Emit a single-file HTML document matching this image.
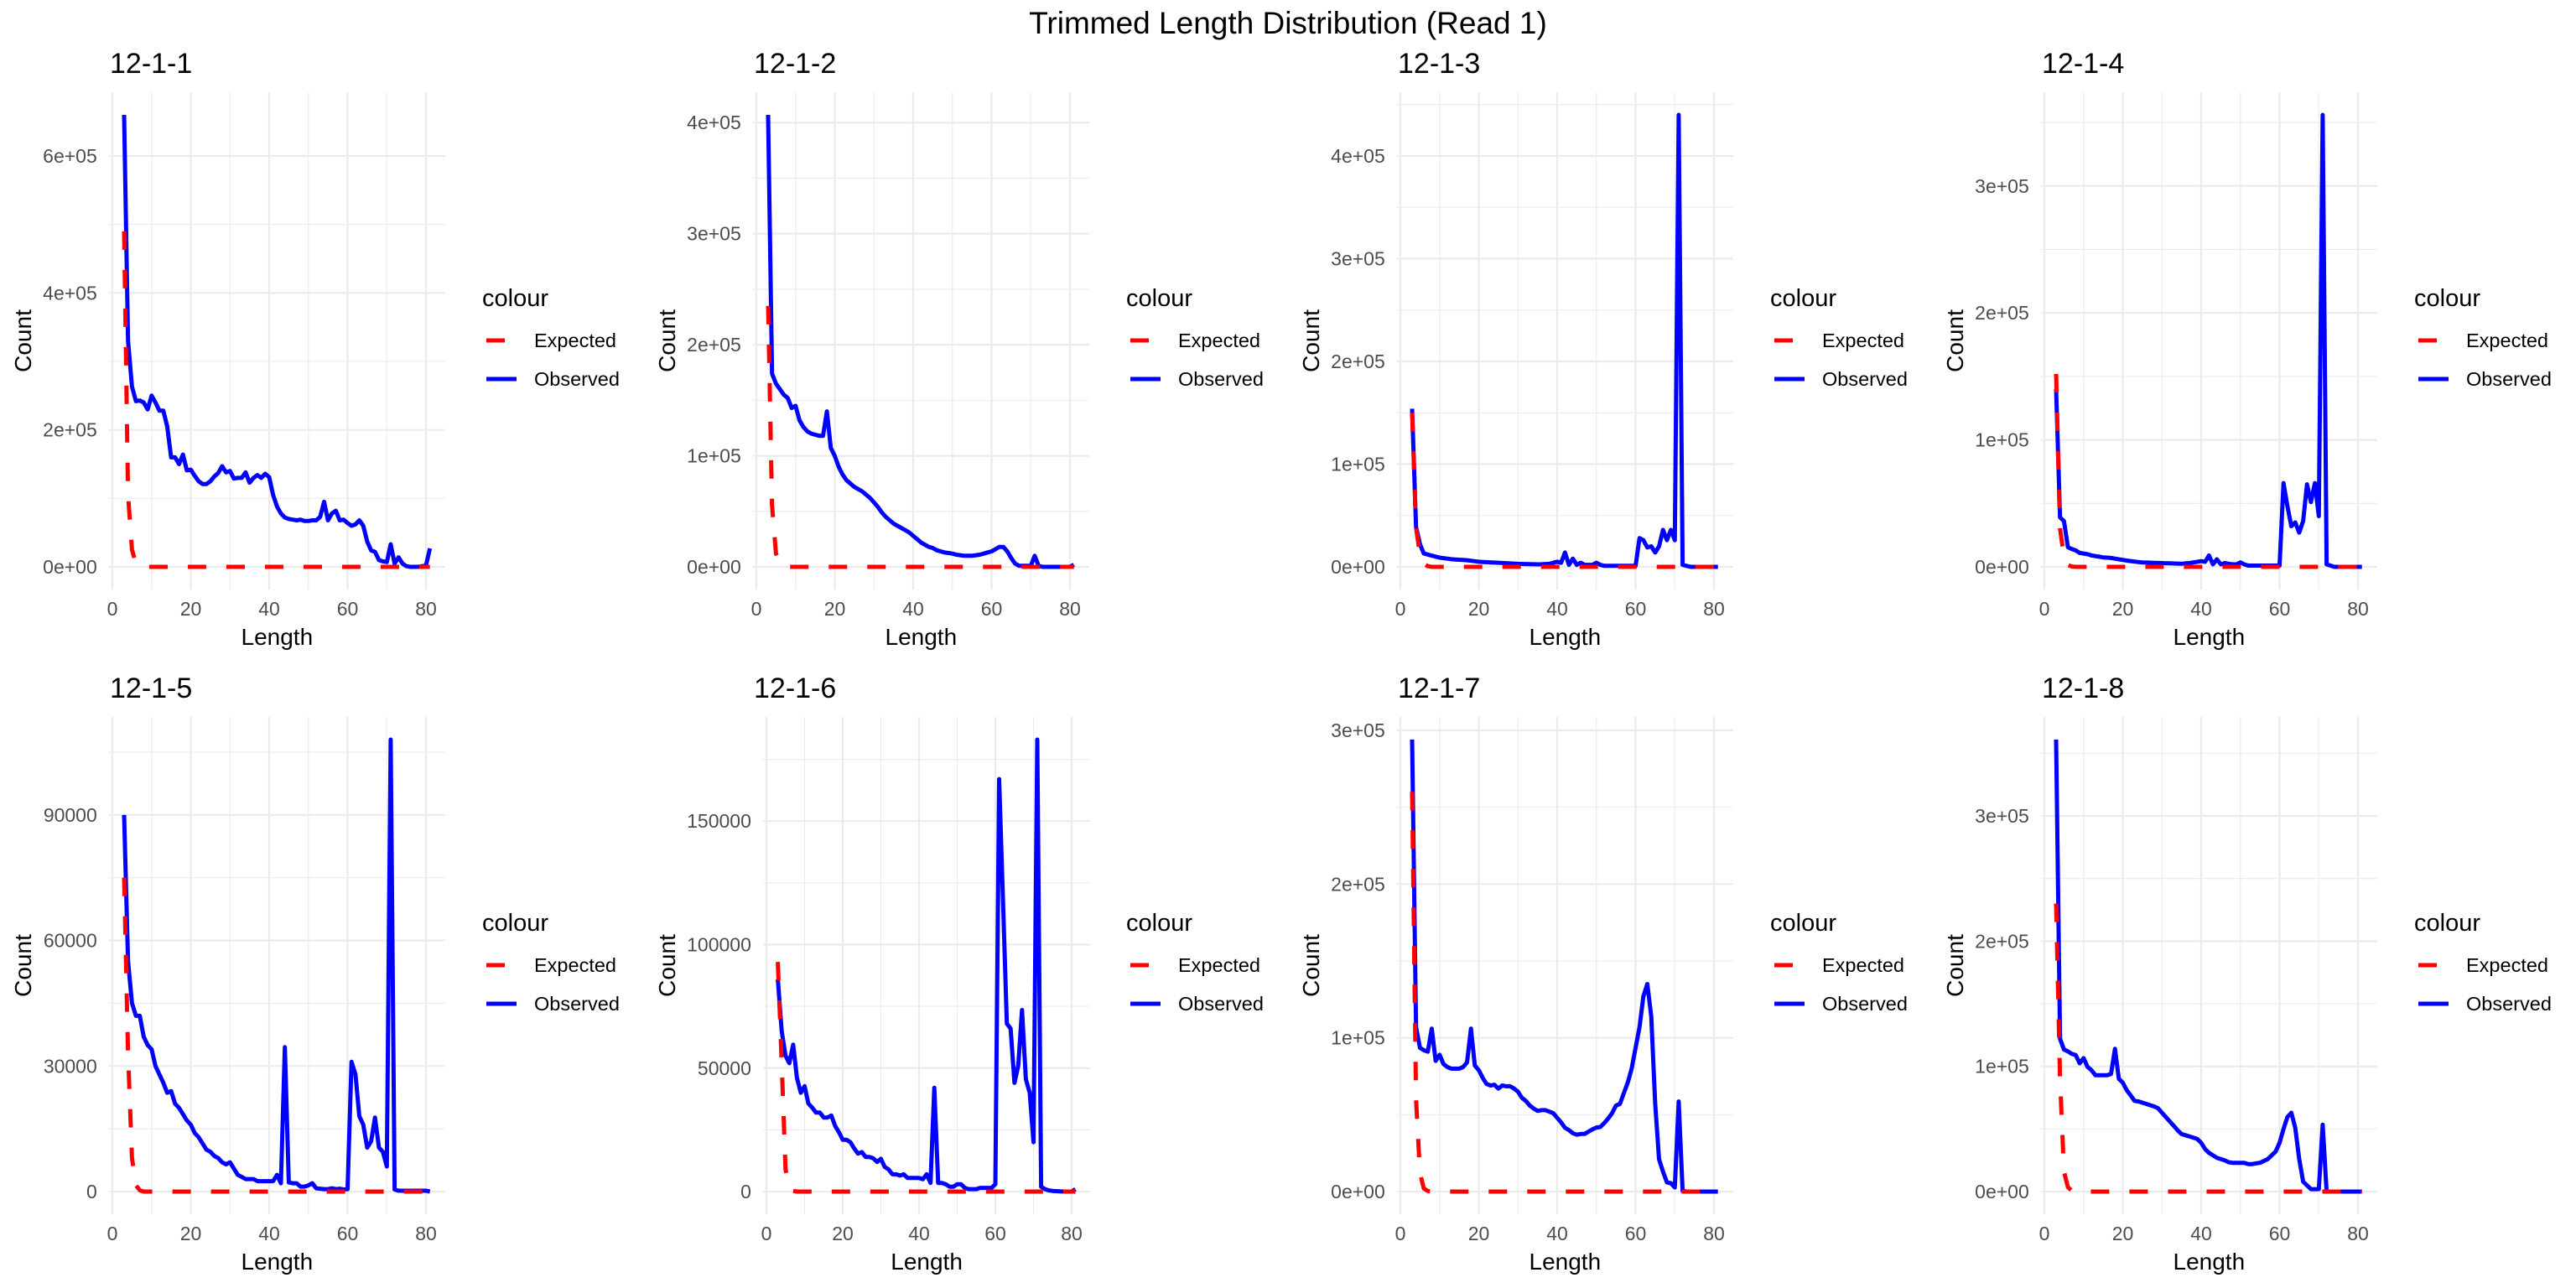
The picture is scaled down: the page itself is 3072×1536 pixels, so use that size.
<!DOCTYPE html>
<html>
<head>
<meta charset="utf-8">
<style>
  html, body { margin: 0; padding: 0; background: #ffffff; }
  svg { display: block; font-family: "Liberation Sans", Arial, sans-serif; }
</style>
</head>
<body>
<svg id="chart" width="3072" height="1536" viewBox="0 0 3072 1536" xmlns="http://www.w3.org/2000/svg">
  <rect x="0" y="0" width="3072" height="1536" fill="#ffffff"/>
  <text x="1536" y="40" text-anchor="middle" font-size="37" fill="#000">Trimmed Length Distribution (Read 1)</text>
</svg>
<script>
// ---- data ----
const panelTitles = ["12-1-1","12-1-2","12-1-3","12-1-4","12-1-5","12-1-6","12-1-7","12-1-8"];
const lengthStart = 3;
const lengthEnd = 81;

const obs1 = [660000,330000,263000,242000,243000,240000,230000,250000,240000,228000,
228000,205000,160000,160000,150000,164000,141000,142000,133000,125000,
121000,121000,125000,132000,137000,147000,138000,140000,129000,130000,
130000,138000,123000,130000,134000,130000,136000,131000,105000,88000,
78000,72000,70000,69000,68000,69000,67000,67000,68000,68000,
73000,95000,68000,78000,82000,68000,69000,64000,60000,62000,
68000,60000,37000,24000,22000,10000,8000,7000,33000,5000,
14000,5000,1000,0,0,0,1000,2000,27000];
const obs2 = [407000,174000,165000,160000,155000,152000,143000,145000,132000,126000,
122000,120000,119000,118000,118000,140000,107000,100000,90000,83000,
78000,75000,72000,70000,68000,65000,62000,58000,54000,49000,
45000,42000,39000,37000,35000,33000,31000,28000,25000,22000,
20000,18000,17000,15000,14000,13000,12500,12000,11000,10500,
10000,10000,10000,10500,11000,12000,13000,14000,16000,18000,
18000,14000,8000,3000,1000,1000,1000,1000,10000,1000,
0,0,0,0,0,0,0,0,2000];
const obs3 = [154000,39000,22000,13000,12000,11000,10000,9000,8500,8000,
7500,7200,7000,6800,6500,6000,5500,5000,4800,4600,
4400,4200,4000,3800,3600,3400,3200,3000,2900,2800,
2700,2600,2500,2600,2800,3000,4000,5000,4000,14000,
2000,8000,2000,4000,2000,2000,2000,4000,2000,1000,
1000,1000,1000,1000,1000,1000,1000,1000,28000,26000,
19000,20000,14000,20000,36000,26000,36000,26000,440000,2000,
1000,0,0,0,0,0,0,0,0];
const obs4 = [140000,39000,36000,15500,14000,13000,11000,10500,10000,9000,
8500,8000,7500,7300,7000,6500,6000,5500,5000,4600,
4200,3800,3500,3400,3300,3200,3100,3000,2900,2800,
2700,2600,2500,2800,3000,3500,4000,4500,4000,9000,
2000,6000,2000,3000,2500,2000,2000,3500,2000,1000,
1000,1000,1000,1000,1000,1000,1000,1000,66000,48000,
32000,35000,27000,36000,65000,51000,66000,40000,356000,2000,
1000,0,0,0,0,0,0,0,0];
const obs5 = [90000,55000,45000,42000,42000,37000,35000,34000,30000,28000,
26000,23600,24000,21000,20000,18500,17000,16000,14000,13000,
11500,10000,9500,8500,8000,7000,6500,7000,5500,4000,
3500,3000,3000,3000,2500,2500,2500,2500,2500,4000,
2000,34500,2200,2000,2000,1200,1200,1500,2000,800,
700,600,600,800,600,700,500,600,31000,28000,
18000,16000,10500,12000,17700,10500,9500,6000,108000,500,
200,200,200,200,200,200,200,200,0];
const obs6 = [86000,65000,55000,52000,59500,46000,40000,42700,35700,34000,
32000,32000,30000,30000,30800,26600,24000,21000,21000,20000,
17500,15400,16000,14000,14000,13500,12000,13300,10000,9000,
7000,7000,6500,7000,5500,5500,5500,5500,5000,7000,
3500,42000,3500,3500,3000,2000,2000,3000,3000,1500,
1000,1000,1000,1500,1500,1500,1500,3000,167000,118000,
68000,66000,44000,51000,73500,45500,40000,20000,183000,2000,
1000,500,300,200,100,0,0,0,1000];
const obs7 = [294000,107000,93500,92000,91000,106000,85000,89000,83000,81000,
80000,80000,80000,81000,84000,106000,82000,79000,74000,70000,
69000,69500,67000,69000,68500,68500,67000,65000,61000,59000,
56000,54000,52500,53000,53000,52000,51000,48000,45000,41500,
40000,38000,37000,37500,37500,39000,40500,41700,42000,44500,
47500,51000,56000,57000,64000,71000,80000,93500,107000,127000,
135000,114000,57000,21000,13000,6000,5500,2700,58600,500,
0,0,0,0,0,0,0,0,0];
const obs8 = [361000,122000,113500,112000,110000,109000,102500,106600,99700,97000,
93000,93000,93000,93000,94000,114000,90000,87000,81000,77000,
72500,72000,71000,70000,69000,68000,66500,63000,59500,56000,
52500,49000,46000,45000,44000,43000,42000,39000,34000,31000,
29000,27000,26000,25000,23500,23000,23000,23000,23000,22000,
22000,22500,23000,24500,26000,29000,32000,39000,50000,59500,
63000,51000,26000,8000,5000,2000,2000,2000,53500,0,
0,0,0,0,0,0,0,0,0];

const exp1 = [490000,105000,25000,5000,1000,0,0,0,0,0,
0,0,0,0,0,0,0,0,0,0, 0,0,0,0,0,0,0,0,0,0, 0,0,0,0,0,0,0,0,0,0,
0,0,0,0,0,0,0,0,0,0, 0,0,0,0,0,0,0,0,0,0, 0,0,0,0,0,0,0,0,0,0, 0,0,0,0,0,0,0,0,0];
const exp2 = [235000,55000,12000,2500,500,0,0,0,0,0,
0,0,0,0,0,0,0,0,0,0, 0,0,0,0,0,0,0,0,0,0, 0,0,0,0,0,0,0,0,0,0,
0,0,0,0,0,0,0,0,0,0, 0,0,0,0,0,0,0,0,0,0, 0,0,0,0,0,0,0,0,0,0, 0,0,0,0,0,0,0,0,0];
const exp3 = [150000,38000,12000,3000,700,0,0,0,0,0,
0,0,0,0,0,0,0,0,0,0, 0,0,0,0,0,0,0,0,0,0, 0,0,0,0,0,0,0,0,0,0,
0,0,0,0,0,0,0,0,0,0, 0,0,0,0,0,0,0,0,0,0, 0,0,0,0,0,0,0,0,0,0, 0,0,0,0,0,0,0,0,0];
const exp4 = [152000,30000,8000,1500,300,0,0,0,0,0,
0,0,0,0,0,0,0,0,0,0, 0,0,0,0,0,0,0,0,0,0, 0,0,0,0,0,0,0,0,0,0,
0,0,0,0,0,0,0,0,0,0, 0,0,0,0,0,0,0,0,0,0, 0,0,0,0,0,0,0,0,0,0, 0,0,0,0,0,0,0,0,0];
const exp5 = [75000,33000,8000,1500,300,0,0,0,0,0,
0,0,0,0,0,0,0,0,0,0, 0,0,0,0,0,0,0,0,0,0, 0,0,0,0,0,0,0,0,0,0,
0,0,0,0,0,0,0,0,0,0, 0,0,0,0,0,0,0,0,0,0, 0,0,0,0,0,0,0,0,0,0, 0,0,0,0,0,0,0,0,0];
const exp6 = [93000,52000,9000,1500,300,0,0,0,0,0,
0,0,0,0,0,0,0,0,0,0, 0,0,0,0,0,0,0,0,0,0, 0,0,0,0,0,0,0,0,0,0,
0,0,0,0,0,0,0,0,0,0, 0,0,0,0,0,0,0,0,0,0, 0,0,0,0,0,0,0,0,0,0, 0,0,0,0,0,0,0,0,0];
const exp7 = [260000,60000,12000,2000,400,0,0,0,0,0,
0,0,0,0,0,0,0,0,0,0, 0,0,0,0,0,0,0,0,0,0, 0,0,0,0,0,0,0,0,0,0,
0,0,0,0,0,0,0,0,0,0, 0,0,0,0,0,0,0,0,0,0, 0,0,0,0,0,0,0,0,0,0, 0,0,0,0,0,0,0,0,0];
const exp8 = [230000,90000,16000,3500,700,0,0,0,0,0,
0,0,0,0,0,0,0,0,0,0, 0,0,0,0,0,0,0,0,0,0, 0,0,0,0,0,0,0,0,0,0,
0,0,0,0,0,0,0,0,0,0, 0,0,0,0,0,0,0,0,0,0, 0,0,0,0,0,0,0,0,0,0, 0,0,0,0,0,0,0,0,0];

const observedSeries = [obs1, obs2, obs3, obs4, obs5, obs6, obs7, obs8];
const expectedSeries = [exp1, exp2, exp3, exp4, exp5, exp6, exp7, exp8];

const xTickValues = [0, 20, 40, 60, 80];
const xTickLabels = ["0", "20", "40", "60", "80"];
const yTickValues = [
  [0, 200000, 400000, 600000],
  [0, 100000, 200000, 300000, 400000],
  [0, 100000, 200000, 300000, 400000],
  [0, 100000, 200000, 300000],
  [0, 30000, 60000, 90000],
  [0, 50000, 100000, 150000],
  [0, 100000, 200000, 300000],
  [0, 100000, 200000, 300000]
];
const yTickLabels = [
  ["0e+00","2e+05","4e+05","6e+05"],
  ["0e+00","1e+05","2e+05","3e+05","4e+05"],
  ["0e+00","1e+05","2e+05","3e+05","4e+05"],
  ["0e+00","1e+05","2e+05","3e+05"],
  ["0","30000","60000","90000"],
  ["0","50000","100000","150000"],
  ["0e+00","1e+05","2e+05","3e+05"],
  ["0e+00","1e+05","2e+05","3e+05"]
];

// ---- drawing ----
const NS = "http://www.w3.org/2000/svg";
const svg = document.getElementById("chart");
function mk(tag, attrs, parent) {
  const e = document.createElementNS(NS, tag);
  for (const k in attrs) e.setAttribute(k, attrs[k]);
  (parent || svg).appendChild(e);
  return e;
}

for (let p = 0; p < 8; p++) {
  const col = p % 4, row = Math.floor(p / 4);
  const colX = col * 768;
  const rowY = row * 745;
  const g = mk("g", {});
  
  

  const x0px = colX + (p === 5 ? 146 : 134);
  const x80px = colX + (p === 5 ? 510 : 508);
  const xs = v => x0px + (v / 80) * (x80px - x0px);
  const xmin = lengthStart - 0.05 * (lengthEnd - lengthStart);
  const xmax = lengthEnd + 0.05 * (lengthEnd - lengthStart);
  const pLeft = xs(xmin), pRight = xs(xmax);

  const obs = observedSeries[p], ex = expectedSeries[p];
  let maxV = 0;
  obs.forEach(v => { if (v > maxV) maxV = v; });
  ex.forEach(v => { if (v > maxV) maxV = v; });
  const ymin = -0.05 * maxV, ymax = 1.05 * maxV;
  const pTop = 110 + rowY, pBot = 703 + rowY;
  const ys = v => pBot - (v - ymin) / (ymax - ymin) * (pBot - pTop);

  // minor grid y
  const yt = yTickValues[p];
  const step = yt[1] - yt[0];
  for (let v = yt[0] - step / 2; v <= ymax; v += step) {
    if (v < ymin) continue;
    const l = mk("line", {x1: pLeft, x2: pRight, y1: ys(v), y2: ys(v), stroke: "#ebebeb", "stroke-width": 1.1}, g);
    
    
  }
  // minor grid x
  [10, 30, 50, 70].forEach(v => {
    const l = mk("line", {x1: xs(v), x2: xs(v), y1: pTop, y2: pBot, stroke: "#ebebeb", "stroke-width": 1.1}, g);
    
    
  });
  // major grid + y labels
  yt.forEach((v, i) => {
    const l = mk("line", {x1: pLeft, x2: pRight, y1: ys(v), y2: ys(v), stroke: "#ebebeb", "stroke-width": 2.2}, g);
    
    
    const t = mk("text", {x: pLeft - 14, y: ys(v) + 8, "text-anchor": "end", "font-size": 23, fill: "#4d4d4d"}, g);
    t.textContent = yTickLabels[p][i];
    
    
  });
  xTickValues.forEach((v, i) => {
    const l = mk("line", {x1: xs(v), x2: xs(v), y1: pTop, y2: pBot, stroke: "#ebebeb", "stroke-width": 2.2}, g);
    
    
    const t = mk("text", {x: xs(v), y: 734 + rowY, "text-anchor": "middle", "font-size": 23, fill: "#4d4d4d"}, g);
    t.textContent = xTickLabels[i];
    
    
  });

  // series
  const ptsObs = obs.map((v, i) => xs(lengthStart + i).toFixed(1) + "," + ys(v).toFixed(1)).join(" ");
  const lo = mk("polyline", {points: ptsObs, fill: "none", stroke: "#0000ff", "stroke-width": 5, "stroke-linejoin": "round"}, g);
  
  
  const ptsExp = ex.map((v, i) => xs(lengthStart + i).toFixed(1) + "," + ys(v).toFixed(1)).join(" ");
  const le = mk("polyline", {points: ptsExp, fill: "none", stroke: "#ff0000", "stroke-width": 5, "stroke-dasharray": "22 24", "stroke-linejoin": "round"}, g);
  
  

  // titles
  const tt = mk("text", {x: colX + 131, y: 87 + rowY, "font-size": 34, fill: "#000"}, g);
  tt.textContent = panelTitles[p];
  
  
  const xt = mk("text", {x: (pLeft + pRight) / 2, y: 769 + rowY, "text-anchor": "middle", "font-size": 28, fill: "#000"}, g);
  xt.textContent = "Length";
  
  
  const cy = (pTop + pBot) / 2;
  const yTitle = mk("text", {x: colX + 37, y: cy, "text-anchor": "middle", "font-size": 28, fill: "#000", transform: "rotate(-90 " + (colX + 37) + " " + cy + ")"}, g);
  yTitle.textContent = "Count";
  
  

  // legend
  const lg = mk("g", {}, g);
  
  
  const lt = mk("text", {x: colX + 575, y: 365 + rowY, "font-size": 29, fill: "#000"}, lg);
  lt.textContent = "colour";
  
  
  const k1 = mk("line", {x1: colX + 580, x2: colX + 616, y1: 406 + rowY, y2: 406 + rowY, stroke: "#ff0000", "stroke-width": 5, "stroke-dasharray": "22 24"}, lg);
  
  
  const e1 = mk("text", {x: colX + 637, y: 414 + rowY, "font-size": 23.5, fill: "#000"}, lg);
  e1.textContent = "Expected";
  
  
  const k2 = mk("line", {x1: colX + 580, x2: colX + 616, y1: 452 + rowY, y2: 452 + rowY, stroke: "#0000ff", "stroke-width": 5}, lg);
  
  
  const e2 = mk("text", {x: colX + 637, y: 460 + rowY, "font-size": 23.5, fill: "#000"}, lg);
  e2.textContent = "Observed";
  
  
}
</script>
</body>
</html>
